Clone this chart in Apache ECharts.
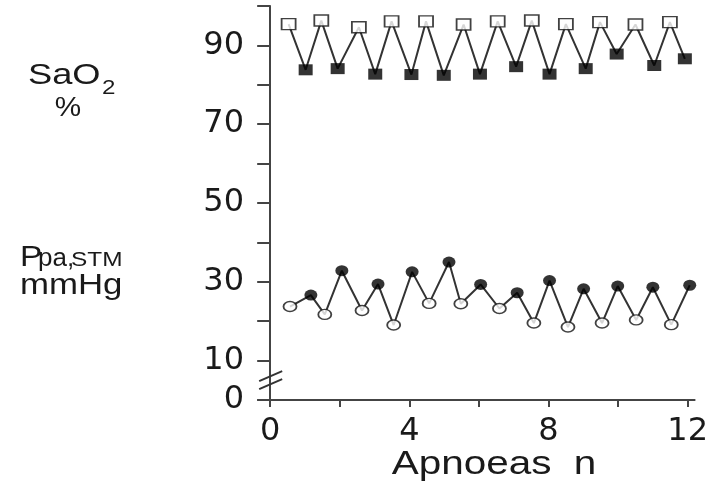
<!DOCTYPE html>
<html><head><meta charset="utf-8">
<script src="https://cdn.jsdelivr.net/npm/echarts@6/dist/echarts.min.js"></script>
<style>html,body{margin:0;padding:0;background:#fff}#c{width:711px;height:496px}</style>
</head><body><div id="c"></div>
<script>
// SaO2 (%) — open squares (between apnoeas) and filled squares (end of apnoea)
const sao2OpenX   = [0.53, 1.47, 2.55, 3.49, 4.48, 5.56, 6.54, 7.52, 8.50, 9.48, 10.50, 11.49];
const sao2OpenY   = [95.4, 96.3, 94.6, 96.1, 96.1, 95.3, 96.1, 96.3, 95.4, 95.9, 95.3, 95.9];
const sao2FilledX = [1.02, 1.94, 3.02, 4.06, 4.99, 6.03, 7.07, 8.03, 9.07, 9.96, 11.04, 11.92];
const sao2FilledY = [83.8, 84.1, 82.7, 82.6, 82.4, 82.7, 84.6, 82.7, 84.1, 87.8, 84.9, 86.6];
// Ppa,STM (mmHg) — open circles and filled circles
const ppaOpenX   = [0.57, 1.57, 2.64, 3.55, 4.57, 5.48, 6.59, 7.58, 8.56, 9.54, 10.52, 11.53];
const ppaOpenY   = [23.7, 21.7, 22.7, 19.0, 24.5, 24.4, 23.2, 19.5, 18.5, 19.5, 20.3, 19.1];
const ppaFilledX = [1.17, 2.06, 3.10, 4.08, 5.14, 6.05, 7.10, 8.03, 9.01, 9.99, 11.00, 12.06];
const ppaFilledY = [26.6, 32.8, 29.4, 32.5, 35.0, 29.3, 27.2, 30.3, 28.2, 28.9, 28.6, 29.1];
// axis ticks / labels
const xTicks  = [0, 2, 4, 6, 8, 10, 12];
const xLabels = [0, 4, 8, 12];
const yTicks  = [0, 10, 20, 30, 40, 50, 60, 70, 80, 90, 100];
const yLabels = [0, 10, 30, 50, 70, 90];

const pairs = (xs, ys) => xs.map((x, i) => [x, ys[i]]);
const zig = (ox, oy, fx, fy) => {
  const out = [];
  ox.forEach((x, i) => { out.push([x, oy[i]]); out.push([fx[i], fy[i]]); });
  return out;
};

const FONT = '"Liberation Sans", Arial, sans-serif';
const TICKFONT = '"DejaVu Sans", sans-serif';
const INK = '#1a1a1a';
const LINE = '#333';

const chart = echarts.init(document.getElementById('c'), null, {renderer: 'canvas'});
const option = {
  animation: false,
  backgroundColor: '#fff',
  grid: {left: 258, right: 10, top: 6, bottom: 91, containLabel: false},
  xAxis: {
    type: 'value', min: -0.35, max: 12.2,
    splitLine: {show: false},
    axisLine: {onZero: true, lineStyle: {color: '#444', width: 2}},
    axisTick: {show: true, inside: false, length: 7, customValues: xTicks, lineStyle: {color: '#444', width: 2}},
    axisLabel: {customValues: xLabels, margin: 11, fontSize: 32, color: INK, fontFamily: TICKFONT}
  },
  yAxis: {
    type: 'value', min: -1.3, max: 100,
    splitLine: {show: false},
    axisLine: {onZero: true, lineStyle: {color: '#444', width: 2}},
    axisTick: {show: true, inside: false, length: 13, customValues: yTicks, lineStyle: {color: '#444', width: 2}},
    axisLabel: {customValues: yLabels, margin: 14, fontSize: 32, color: INK, fontFamily: TICKFONT}
  },
  series: [
    {type: 'line', data: zig(sao2OpenX, sao2OpenY, sao2FilledX, sao2FilledY), symbol: 'none',
     lineStyle: {color: LINE, width: 2}, z: 2},
    {type: 'line', data: zig(ppaOpenX, ppaOpenY, ppaFilledX, ppaFilledY), symbol: 'none',
     lineStyle: {color: LINE, width: 2}, z: 2},
    {type: 'scatter', data: pairs(sao2OpenX, sao2OpenY), symbol: 'rect', symbolSize: [14, 11],
     itemStyle: {color: '#fff', borderColor: '#111', borderWidth: 1.6}, z: 3},
    {type: 'scatter', data: pairs(sao2FilledX, sao2FilledY), symbol: 'rect', symbolSize: [14, 11],
     itemStyle: {color: '#000'}, z: 3},
    {type: 'scatter', data: pairs(ppaOpenX, ppaOpenY), symbol: 'circle', symbolSize: [13, 10],
     itemStyle: {color: '#fff', borderColor: '#111', borderWidth: 1.6}, z: 3},
    {type: 'scatter', data: pairs(ppaFilledX, ppaFilledY), symbol: 'circle', symbolSize: [13, 11],
     itemStyle: {color: '#000'}, z: 3}
  ]
};
chart.setOption(option);

// axis break marks and side labels
const p5 = chart.convertToPixel({gridIndex: 0}, [0, 5]);
const brk = (dy) => ({type: 'line', shape: {x1: p5[0] - 11, y1: p5[1] + dy + 5, x2: p5[0] + 12, y2: p5[1] + dy - 5},
  style: {stroke: '#333', lineWidth: 2}, z: 10});
const txt = (text, x, y, fs, sx, align) => ({type: 'text', x: x, y: y, scaleX: sx, z: 10,
  style: {text: text, fontSize: fs, fontFamily: FONT, fill: INK, align: align || 'left', verticalAlign: 'middle'}});

chart.setOption({graphic: [
  brk(-4), brk(4),
  txt('SaO', 28, 75.5, 29, 1.25),
  txt('2', 102, 88.5, 21, 1.15),
  txt('%', 68, 108.5, 27, 1.1, 'center'),
  txt('P', 20, 257.8, 29, 1.15),
  txt('pa,', 38, 259.2, 26, 1.0),
  txt('STM', 71, 260.8, 20, 1.22),
  txt('mmHg', 20, 285.5, 30, 1.16),
  txt('Apnoeas  n', 494, 465, 34, 1.19, 'center')
]});
</script>
</body></html>
